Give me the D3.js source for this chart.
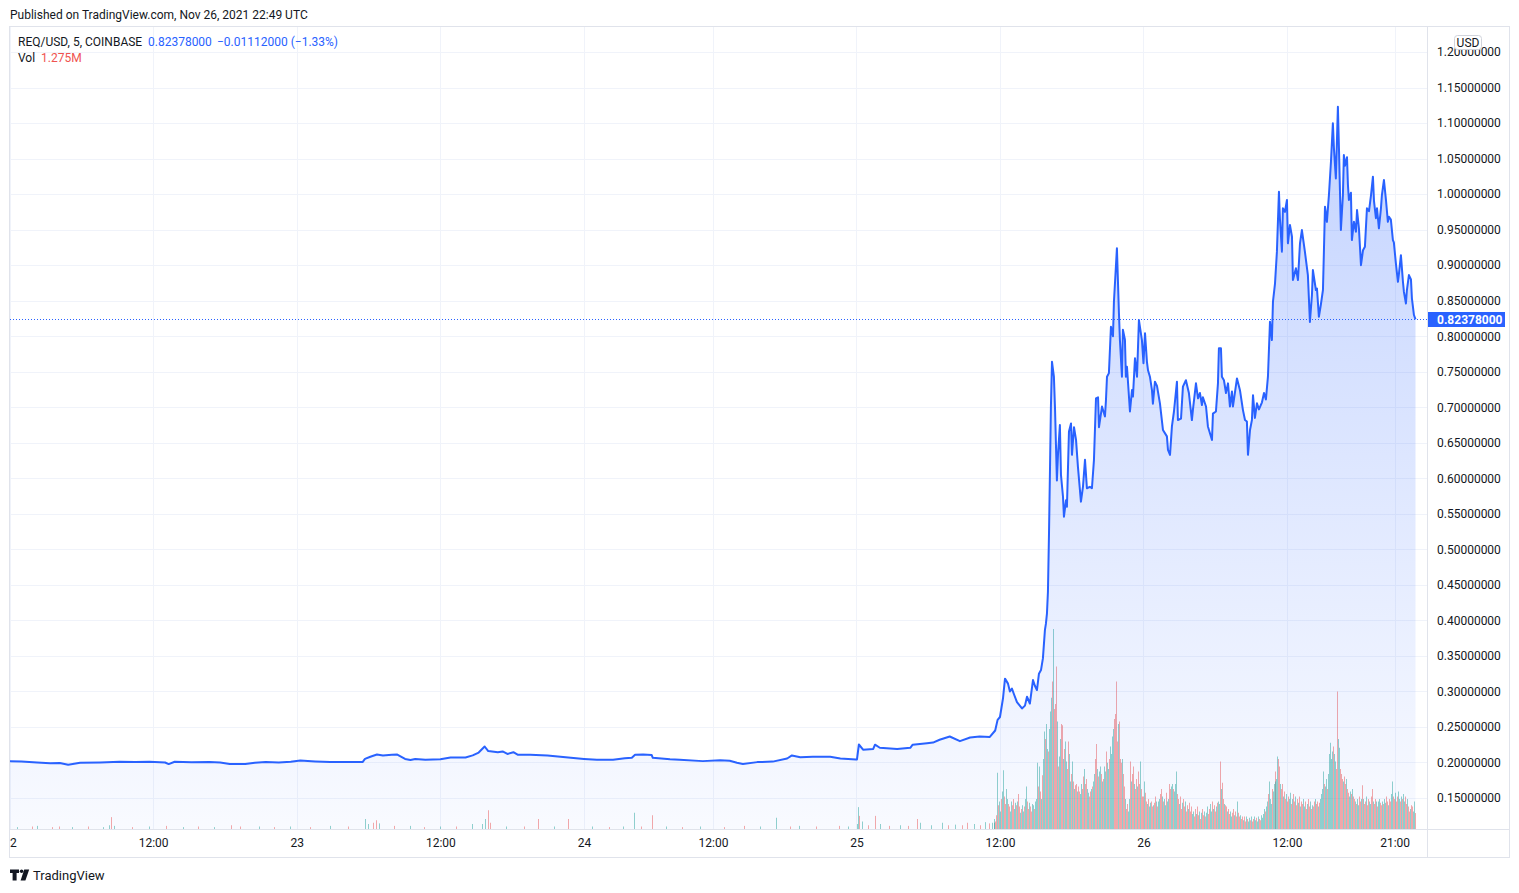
<!DOCTYPE html>
<html>
<head>
<meta charset="utf-8">
<script src="https://cdn.jsdelivr.net/npm/d3@7"></script>
<style>
  body { margin: 0; background: #fff; }
  svg { display: block; font-family: Roboto, "Noto Sans", sans-serif; }
</style>
</head>
<body>
<svg width="1519" height="893"></svg>
<script>
// price readings per day: [hour of day (UTC), close]
const priceNov22 = [[0,0.2018],[1,0.2015],[2.3,0.2000],[3.4,0.1990],[4.2,0.1992],[4.9,0.1967],[5.9,0.1995],[7.6,0.2000],
  [9.2,0.2010],[10.5,0.2006],[11.7,0.2010],[13.0,0.2000],[13.3,0.1977],[13.8,0.2010],[15.2,0.2004],[16.7,0.2008],
  [17.6,0.2000],[18.4,0.1980],[19.7,0.1978],[20.5,0.1995],[21.4,0.2005],[22.5,0.2000],[23.5,0.2010]];
const priceNov23 = [[0.3,0.2028],[1.55,0.2015],[2.8,0.2006],[4.05,0.2006],[5.5,0.2006],[5.7,0.2050],[6.15,0.2080],
  [6.7,0.2113],[7.2,0.2099],[7.95,0.2110],[8.4,0.2112],[9.05,0.2050],[9.5,0.2035],[9.9,0.2050],[10.75,0.2040],
  [12.0,0.2045],[12.85,0.2070],[14.1,0.2070],[14.7,0.2100],[15.2,0.2140],[15.7,0.2225],[16.0,0.2160],[16.8,0.2145],
  [17.2,0.2155],[17.6,0.2120],[18.1,0.2145],[18.45,0.2110],[19.5,0.2110],[20.95,0.2099],[22.9,0.2066]];
const priceNov24 = [[0,0.2050],[1.2,0.2038],[2.7,0.2040],[3.8,0.2060],[4.45,0.2066],[4.75,0.2108],[5.5,0.2112],
  [6.3,0.2105],[6.4,0.2066],[8.0,0.2047],[8.9,0.2040],[11.05,0.2019],[12.6,0.2030],[13.4,0.2025],[14.0,0.1995],
  [14.5,0.1980],[15.7,0.2005],[17.0,0.2012],[18.2,0.2056],[18.6,0.2099],[19.3,0.2075],[20.35,0.2080],[21.8,0.2080],
  [22.65,0.2056],[23.95,0.2042]];
const priceNov25 = [[0.04,0.2042],[0.2,0.2253],[0.55,0.2180],[1.4,0.2190],[1.55,0.2250],[1.95,0.2207],[3.4,0.2190],
  [4.5,0.2207],[4.7,0.2250],[5.9,0.2272],[6.4,0.2280],[6.95,0.2320],[7.8,0.2366],[8.65,0.2300],[9.5,0.2352],
  [10.3,0.2366],[11.15,0.2360],[11.6,0.2450],[11.8,0.2600],[12.0,0.2640],[12.25,0.290],[12.42,0.318],[12.67,0.311],
  [12.83,0.300],[13.0,0.304],[13.17,0.296],[13.42,0.285],[13.84,0.276],[14.09,0.280],[14.26,0.2925],[14.5,0.283],
  [14.76,0.316],[14.92,0.308],[15.09,0.302],[15.26,0.325],[15.43,0.330],[15.59,0.3465],[15.76,0.3866],[15.84,0.395],
  [15.93,0.410],[16.01,0.440],[16.1,0.5225],[16.18,0.610],[16.26,0.701],[16.35,0.764],[16.51,0.743],[16.6,0.700],
  [16.76,0.597],[16.85,0.633],[17.01,0.675],[17.1,0.605],[17.27,0.574],[17.35,0.546],[17.52,0.569],[17.6,0.560],
  [17.77,0.666],[17.94,0.677],[18.02,0.633],[18.19,0.672],[18.36,0.654],[18.52,0.616],[18.77,0.567],[18.94,0.588],
  [19.11,0.626],[19.27,0.586],[19.52,0.588],[19.69,0.586],[19.86,0.626],[20.03,0.7125],[20.2,0.714],[20.28,0.672],
  [20.53,0.701],[20.78,0.687],[20.86,0.709],[20.95,0.743],[21.11,0.748],[21.28,0.8133],[21.45,0.800],[21.53,0.8485],
  [21.78,0.9237],[21.95,0.832],[22.03,0.7946],[22.2,0.743],[22.28,0.809],[22.45,0.795],[22.53,0.743],[22.62,0.757],
  [22.87,0.694],[23.04,0.7242],[23.12,0.715],[23.29,0.769],[23.46,0.743],[23.62,0.8227],[23.87,0.7946]];
const priceNov26 = [[0.0,0.762],[0.13,0.804],[0.29,0.764],[0.38,0.752],[0.54,0.743],[0.71,0.724],[0.79,0.705],
  [0.96,0.736],[1.13,0.730],[1.38,0.705],[1.63,0.668],[1.96,0.659],[2.05,0.640],[2.22,0.633],[2.38,0.673],[2.55,0.694],
  [2.8,0.736],[2.88,0.682],[3.14,0.684],[3.3,0.729],[3.55,0.738],[3.8,0.720],[4.05,0.682],[4.14,0.697],[4.39,0.7336],
  [4.56,0.7125],[4.72,0.720],[4.89,0.703],[4.97,0.714],[5.23,0.701],[5.39,0.673],[5.73,0.654],[5.81,0.691],[6.06,0.694],
  [6.23,0.7336],[6.31,0.783],[6.48,0.783],[6.56,0.743],[6.73,0.738],[6.9,0.720],[7.07,0.7336],[7.23,0.701],[7.4,0.722],
  [7.48,0.701],[7.82,0.7406],[8.07,0.724],[8.32,0.696],[8.49,0.682],[8.65,0.680],[8.74,0.633],[8.91,0.668],[9.07,0.682],
  [9.16,0.717],[9.32,0.685],[9.49,0.7055],[9.66,0.697],[9.91,0.707],[10.08,0.720],[10.24,0.711],[10.41,0.743],
  [10.58,0.8204],[10.74,0.7946],[10.83,0.8485],[11.0,0.874],[11.16,0.919],[11.33,1.0033],[11.41,0.966],[11.58,0.919],
  [11.66,0.980],[11.83,0.975],[12.0,0.9917],[12.08,0.9307],[12.25,0.9565],[12.42,0.940],[12.5,0.879],[12.75,0.8955],
  [12.92,0.879],[13.09,0.9307],[13.25,0.9494],[13.5,0.919],[13.75,0.886],[13.92,0.820],[14.09,0.858],[14.17,0.893],
  [14.42,0.865],[14.51,0.867],[14.67,0.8274],[14.84,0.845],[15.01,0.865],[15.09,0.919],[15.18,0.9822],[15.34,0.961],
  [15.51,0.9987],[15.68,1.0456],[15.84,1.0996],[15.93,1.064],[16.09,1.022],[16.26,1.123],[16.35,1.064],[16.51,0.9494],
  [16.68,0.9987],[16.76,1.055],[16.85,1.040],[17.02,1.052],[17.1,1.0128],[17.18,0.9917],[17.35,1.002],[17.43,0.9353],
  [17.6,0.961],[17.77,0.947],[17.86,0.9776],[18.02,0.9518],[18.19,0.900],[18.36,0.921],[18.52,0.926],[18.69,0.980],
  [18.86,0.976],[19.03,0.9987],[19.19,1.0245],[19.28,0.990],[19.44,0.966],[19.53,0.980],[19.69,0.9518],[19.86,0.980],
  [19.94,0.9987],[20.11,1.0198],[20.28,0.9917],[20.44,0.961],[20.53,0.968],[20.69,0.964],[20.86,0.9353],[20.94,0.932],
  [21.11,0.9025],[21.28,0.8766],[21.36,0.887],[21.53,0.914],[21.7,0.8766],[21.78,0.8626],[21.95,0.846],[22.03,0.865],
  [22.2,0.886],[22.37,0.880],[22.45,0.8533],[22.62,0.8298],[22.75,0.82378]];

// volume (millions) of the quiet days, only the visible bars: ["day hh:mm", vol, up/down]
const volQuiet = [["22 00:40",0.15,"u"],["22 01:55",0.2,"d"],["22 02:20",0.25,"u"],["22 03:35",0.15,"d"],["22 04:10",0.2,"d"],
  ["22 05:15",0.15,"u"],["22 06:35",0.2,"d"],["22 07:50",0.15,"u"],["22 08:20",0.3,"u"],["22 08:30",0.95,"d"],["22 08:45",0.25,"u"],
  ["22 10:15",0.15,"d"],["22 11:40",0.2,"u"],["22 13:05",0.25,"d"],["22 14:30",0.15,"u"],["22 15:45",0.2,"d"],["22 17:10",0.15,"u"],
  ["22 18:35",0.3,"d"],["22 19:20",0.2,"d"],["22 20:55",0.2,"u"],["22 22:10",0.15,"d"],["22 23:30",0.2,"u"],
  ["23 01:10",0.15,"d"],["23 02:50",0.25,"u"],["23 04:20",0.2,"d"],["23 05:45",0.8,"u"],["23 06:00",0.4,"u"],["23 06:25",0.5,"d"],
  ["23 06:40",0.7,"d"],["23 06:55",0.45,"u"],["23 08:10",0.25,"d"],["23 09:30",0.25,"u"],["23 10:40",0.15,"d"],["23 12:00",0.2,"u"],
  ["23 13:20",0.2,"d"],["23 14:40",0.4,"u"],["23 15:30",0.4,"u"],["23 15:45",0.8,"u"],["23 16:00",1.5,"d"],["23 16:10",0.5,"d"],
  ["23 17:30",0.2,"u"],["23 19:00",0.2,"d"],["23 20:10",0.8,"d"],["23 21:30",0.2,"u"],["23 22:40",0.8,"d"],
  ["24 00:50",0.2,"u"],["24 02:20",0.15,"d"],["24 03:40",0.2,"u"],["24 04:40",1.3,"u"],["24 05:20",0.2,"d"],["24 06:25",1.1,"d"],
  ["24 07:40",0.2,"u"],["24 09:10",0.15,"d"],["24 10:50",0.2,"u"],["24 13:00",0.15,"d"],["24 14:40",0.25,"d"],["24 16:00",0.2,"u"],
  ["24 17:20",0.9,"u"],["24 18:30",0.2,"d"],["24 19:15",0.25,"u"],["24 20:40",0.2,"d"],["24 22:35",0.25,"d"],["24 23:20",0.2,"u"],
  ["25 00:05",0.4,"u"],["25 00:10",1.75,"u"],["25 00:15",1.05,"d"],["25 00:30",0.6,"u"],["25 01:00",0.3,"d"],["25 01:35",1.05,"d"],
  ["25 02:00",0.4,"u"],["25 02:45",0.25,"d"],["25 03:40",0.3,"u"],["25 04:20",0.25,"d"],["25 05:05",0.8,"d"],["25 05:20",0.5,"u"],
  ["25 06:15",0.3,"u"],["25 07:10",0.5,"u"],["25 07:40",0.3,"d"],["25 08:15",0.35,"u"],["25 08:50",0.3,"d"],["25 09:15",0.5,"d"],
  ["25 09:50",0.4,"u"],["25 10:20",0.3,"d"],["25 10:45",0.55,"u"],["25 11:05",0.45,"d"],["25 11:20",0.5,"u"]];

// 5-minute volume (millions) from Nov 25 11:30 and from Nov 26 00:00
const volNov25 = [0.5,0.8,0.6,1.1,4.5,1.9,2.2,1.4,2.4,3.0, 4.7,2.6,2.0,3.2,2.4,2.0,1.8,1.4,2.2,1.9,
  2.4,1.6,2.1,1.9,2.2,2.8,1.8,1.3,1.6,1.9, 1.4,1.8,2.4,3.4,2.2,1.6,2.1,1.8,1.4,2.0,
  1.9,1.6,2.2,2.4,5.3,3.4,5.0,3.0,2.4,4.3, 5.6,7.8,7.2,8.4,6.4,6.2,8.0,9.4,10.5,11.8,
  16.0,9.6,10.0,13.0,8.6,5.0,5.8,7.2,8.4,8.3, 5.6,6.4,7.0,5.4,4.8,7.0,6.0,3.8,4.4,5.4,
  3.8,3.2,3.5,3.6,3.0,3.4,3.0,2.8,3.6,3.2, 4.2,4.8,3.6,4.0,3.2,2.9,2.6,3.0,3.2,3.4,
  3.8,4.4,5.6,6.8,4.8,4.2,4.6,5.0,4.4,3.8, 4.0,5.0,4.6,6.2,5.3,4.8,5.6,6.6,6.0,7.4,
  8.0,8.8,9.2,11.8,7.0,8.4,8.6,5.6,5.3,5.6, 4.4,3.4,2.4,1.6,2.0,1.4,2.4,5.4,3.8,4.4,
  5.0,3.6,3.2,4.0,3.4,4.6,3.6,5.4,3.2,2.6];
const dirNov25 = "uudduduudu" + "udduudduud" + "duududdudu" + "uduudduddu" + "uduuududud" +
  "uuduuduuud" + "uddduduudd" + "uduudduudu" + "duddudduud" + "dudduuddud" +
  "uudduduudu" + "duuduuduuu" + "uddddudddu" + "ddudduudud" + "dudduddudd";
const volNov26 = [2.6,3.8,2.9,2.2,2.0,2.4,1.8,2.1,2.2,1.8, 1.9,2.1,2.6,2.2,1.8,2.2,2.4,2.8,3.2,2.6,
  2.2,2.4,1.9,2.9,2.2,2.4,3.6,3.2,3.4,3.6, 3.2,3.0,3.6,4.6,2.8,2.4,2.0,2.6,1.6,2.1,
  2.4,1.8,2.2,1.4,1.9,1.6,2.1,1.4,1.8,1.2, 1.4,1.0,1.6,1.2,1.8,1.1,1.4,0.8,1.3,1.6,
  1.1,1.4,1.0,1.3,1.8,1.2,1.6,2.0,1.4,2.2, 1.6,1.9,1.4,1.8,2.1,2.2,2.0,5.4,3.2,3.7,
  2.4,2.0,1.9,1.8,1.4,1.6,1.2,1.4,1.0,1.3, 1.6,1.1,1.4,1.0,2.2,1.3,1.0,1.1,0.8,1.0,
  0.7,1.0,0.6,1.0,0.8,0.6,0.9,0.7,1.0,0.6, 0.8,1.0,0.7,0.9,0.6,1.0,0.8,0.7,1.1,0.9,
  1.2,1.6,1.4,1.8,2.2,2.8,3.8,2.4,2.0,3.2, 3.0,3.6,4.6,3.8,4.0,5.8,5.6,5.0,3.6,3.2,
  3.6,2.6,3.0,2.4,2.8,2.2,2.6,2.4,2.9,2.0, 2.4,2.8,2.2,2.6,1.9,2.4,2.1,2.6,1.8,2.2,
  2.0,2.4,1.8,2.2,1.6,2.0,2.4,1.8,2.2,1.6, 1.9,1.8,2.2,2.4,2.0,2.2,1.8,2.1,2.4,2.8,
  3.2,4.6,3.6,3.4,4.0,3.2,4.4,6.0,6.9,5.6, 6.2,6.6,6.0,5.4,4.8,11.0,7.2,6.5,4.8,4.4,
  4.0,3.8,4.2,3.6,4.0,3.2,2.9,2.6,3.0,2.8, 3.2,2.6,2.4,2.2,2.0,2.4,1.9,2.6,2.2,2.4,
  3.5,2.4,2.0,2.2,2.6,1.9,2.4,2.2,2.0,2.6, 3.2,2.2,2.0,2.4,2.2,1.8,2.2,2.4,2.1,1.9,
  2.2,2.0,2.4,2.1,2.6,2.2,1.9,2.4,2.2,2.8, 3.8,2.6,2.4,2.9,2.2,2.6,3.0,2.4,2.2,2.6,
  2.4,2.8,2.2,2.6,2.0,2.4,1.8,1.4,1.6,1.9, 1.8,1.4,2.2,1.275];
const dirNov26 = "dudduduudd" + "udduduuddu" + "duuduudduu" + "duuudduddu" + "dduddudddu" +
  "udduddudud" + "duduudduud" + "udduduudud" + "duddudduud" + "dudduddudd" +
  "udduduudud" + "duuduudduu" + "uuduuduuud" + "uuduuuddud" + "duddudduud" +
  "udduddudud" + "duudduddud" + "uddudduduu" + "uuduuduuuu" + "uduudduudd" +
  "duddudduud" + "udduduuddu" + "duddudduud" + "dudduduudd" + "uduudduddu" +
  "uddudduudu" + "duudduddud" + "duud";

const priceTicks = [1.20,1.15,1.10,1.05,1.00,0.95,0.90,0.85,0.80,0.75,0.70,0.65,0.60,0.55,0.50,
  0.45,0.40,0.35,0.30,0.25,0.20,0.15];
const timeTicks = [[22,0],[22,12],[23,0],[23,12],[24,0],[24,12],[25,0],[25,12],[26,0],[26,12],[26,21]];
const timeLabels = ["22","12:00","23","12:00","24","12:00","25","12:00","26","12:00","21:00"];

const lastPrice = 0.82378;
const changeText = "\u22120.01112000 (\u22121.33%)";
const lastVolText = "1.275M";

const t = (day, h) => new Date(Date.UTC(2021, 10, day) + h * 3600e3);

function buildPrices() {
    const days = [[22, priceNov22], [23, priceNov23], [24, priceNov24], [25, priceNov25], [26, priceNov26]];
    let data = [];
    days.forEach(([day, arr]) => arr.forEach(([h, p]) => data.push({t: t(day, h), p})));
    return data;
}

function buildVolumes() {
    let data = volQuiet.map(([s, v, d]) => {
        const day = +s.slice(0, 2), hh = +s.slice(3, 5), mm = +s.slice(6, 8);
        return {t: t(day, hh + mm / 60), v, up: d === "u"};
    });
    volNov25.forEach((v, i) => data.push({t: t(25, 11.5 + i * 5 / 60), v, up: dirNov25.charAt(i) !== "d"}));
    volNov26.forEach((v, i) => data.push({t: t(26, i * 5 / 60), v, up: dirNov26.charAt(i) !== "d"}));
    return data;
}

const svg = d3.select("svg");
const pane = {left: 10, top: 27, right: 1427, bottom: 829};
const outerRight = 1509, outerBottom = 857;

// TradingView x axis is bar based: the short Nov 24 morning (missing bars) gets less room
const x = d3.scaleTime()
    .domain([t(22, 0), t(24, 0), t(24, 12), t(26, 22.75)])
    .range([9.5, 584, 713, 1415.5]);
const y = d3.scaleLinear().domain([0.15, 1.20]).range([798, 52]);
const vy = d3.scaleLinear().domain([0, 16]).range([pane.bottom, pane.bottom - 200]);

const defs = svg.append("defs");
defs.append("clipPath").attr("id", "pane")
    .append("rect").attr("x", pane.left).attr("y", pane.top)
    .attr("width", pane.right - pane.left).attr("height", pane.bottom - pane.top);
defs.append("clipPath").attr("id", "timeclip")
    .append("rect").attr("x", pane.left).attr("y", pane.bottom)
    .attr("width", pane.right - pane.left).attr("height", outerBottom - pane.bottom);
const grad = defs.append("linearGradient").attr("id", "areaFill")
    .attr("x1", 0).attr("y1", 0).attr("x2", 0).attr("y2", 1);
grad.append("stop").attr("offset", 0).attr("stop-color", "#2962ff").attr("stop-opacity", 0.28);
grad.append("stop").attr("offset", 1).attr("stop-color", "#2962ff").attr("stop-opacity", 0.03);

// header
svg.append("text").attr("x", 10).attr("y", 19)
    .attr("font-size", 12).attr("fill", "#131722")
    .text("Published on TradingView.com, Nov 26, 2021 22:49 UTC");

// grid
const grid = svg.append("g").attr("clip-path", "url(#pane)");
grid.selectAll(".hg").data(priceTicks).join("line")
    .attr("x1", pane.left).attr("x2", pane.right)
    .attr("y1", d => Math.round(y(d)) + 0.5).attr("y2", d => Math.round(y(d)) + 0.5)
    .attr("stroke", "#f0f3fa");
grid.selectAll(".vg").data(timeTicks).join("line")
    .attr("y1", pane.top).attr("y2", pane.bottom)
    .attr("x1", d => Math.round(x(t(d[0], d[1]))) + 0.5).attr("x2", d => Math.round(x(t(d[0], d[1]))) + 0.5)
    .attr("stroke", "#f0f3fa");

const plot = svg.append("g").attr("clip-path", "url(#pane)");

// volume
const volumes = buildVolumes();
plot.append("g").selectAll("rect").data(volumes).join("rect")
    .attr("x", d => Math.round(x(d.t) - 0.5))
    .attr("width", 1)
    .attr("y", d => vy(d.v))
    .attr("height", d => vy(0) - vy(d.v))
    .attr("fill", d => d.up ? "#26a69a" : "#ef5350")
    .attr("fill-opacity", 0.5);

// price area + line
const prices = buildPrices();
const area = d3.area().x(d => x(d.t)).y0(pane.bottom).y1(d => y(d.p));
const line = d3.line().x(d => x(d.t)).y(d => y(d.p));
plot.append("path").attr("d", area(prices)).attr("fill", "url(#areaFill)");
plot.append("path").attr("d", line(prices))
    .attr("fill", "none").attr("stroke", "#2962ff").attr("stroke-width", 2)
    .attr("stroke-linejoin", "round");

// last price dotted line
plot.append("line")
    .attr("x1", pane.left).attr("x2", pane.right)
    .attr("y1", Math.round(y(lastPrice)) + 0.5).attr("y2", Math.round(y(lastPrice)) + 0.5)
    .attr("stroke", "#2962ff").attr("stroke-dasharray", "1,2");

// frame
const frame = svg.append("g").attr("fill", "none").attr("stroke", "#e0e3eb");
frame.append("rect").attr("x", pane.left - 0.5).attr("y", pane.top - 0.5)
    .attr("width", outerRight - pane.left + 1).attr("height", outerBottom - pane.top + 1);
frame.append("line").attr("x1", pane.right + 0.5).attr("x2", pane.right + 0.5)
    .attr("y1", pane.top).attr("y2", outerBottom);
frame.append("line").attr("x1", pane.left).attr("x2", outerRight)
    .attr("y1", pane.bottom + 0.5).attr("y2", pane.bottom + 0.5);

// price axis
const yAxis = d3.axisRight(y).tickValues(priceTicks).tickSize(0).tickPadding(10)
    .tickFormat(d3.format(".8f"));
const gy = svg.append("g").attr("transform", `translate(${pane.right},0)`).call(yAxis);
gy.select(".domain").remove();
gy.selectAll("text").attr("font-family", "Roboto, sans-serif").attr("font-size", 12).attr("fill", "#131722");

// time axis
const xAxis = d3.axisBottom(x).tickValues(timeTicks.map(d => t(d[0], d[1])))
    .tickFormat((d, i) => timeLabels[i]).tickSize(0).tickPadding(9);
const gx = svg.append("g").attr("clip-path", "url(#timeclip)")
    .append("g").attr("transform", `translate(0,${pane.bottom})`).call(xAxis);
gx.select(".domain").remove();
gx.selectAll("text").attr("font-family", "Roboto, sans-serif").attr("font-size", 12).attr("fill", "#131722");

// last price label
const ly = y(lastPrice);
svg.append("rect").attr("x", pane.right + 1).attr("y", Math.round(ly) - 7)
    .attr("width", 77).attr("height", 15).attr("fill", "#2962ff");
svg.append("text").attr("x", 1437).attr("y", ly + 4.5)
    .attr("font-size", 12).attr("font-weight", "bold").attr("fill", "#fff")
    .text(d3.format(".8f")(lastPrice));

// currency badge
svg.append("rect").attr("x", 1454.5).attr("y", 35.5).attr("width", 27).attr("height", 14)
    .attr("rx", 3).attr("fill", "#fff").attr("stroke", "#d1d4dc");
svg.append("text").attr("x", 1468).attr("y", 47).attr("text-anchor", "middle")
    .attr("font-size", 12).attr("fill", "#131722").text("USD");

// legend
const leg1 = svg.append("text").attr("x", 18).attr("y", 46).attr("font-size", 12).attr("fill", "#131722");
leg1.append("tspan").text("REQ/USD, 5, COINBASE");
leg1.append("tspan").attr("x", 148).attr("fill", "#2962ff").text(d3.format(".8f")(lastPrice));
leg1.append("tspan").attr("x", 217).attr("fill", "#2962ff").text(changeText);
const leg2 = svg.append("text").attr("x", 18).attr("y", 62).attr("font-size", 12).attr("fill", "#131722");
leg2.append("tspan").text("Vol");
leg2.append("tspan").attr("x", 41).attr("fill", "#ef5350").text(lastVolText);

// footer logo
const logo = svg.append("g").attr("fill", "#131722");
logo.append("path").attr("d", "M10,869.5 H19 V873 H16.6 V880.5 H12.6 V873 H10 Z");
logo.append("circle").attr("cx", 21.6).attr("cy", 871.3).attr("r", 1.8);
logo.append("path").attr("d", "M24.2,869.5 H29.2 L25.4,880.5 H20.6 Z");
svg.append("text").attr("x", 33).attr("y", 880).attr("font-size", 13).attr("fill", "#131722")
    .text("TradingView");
</script>
</body>
</html>
